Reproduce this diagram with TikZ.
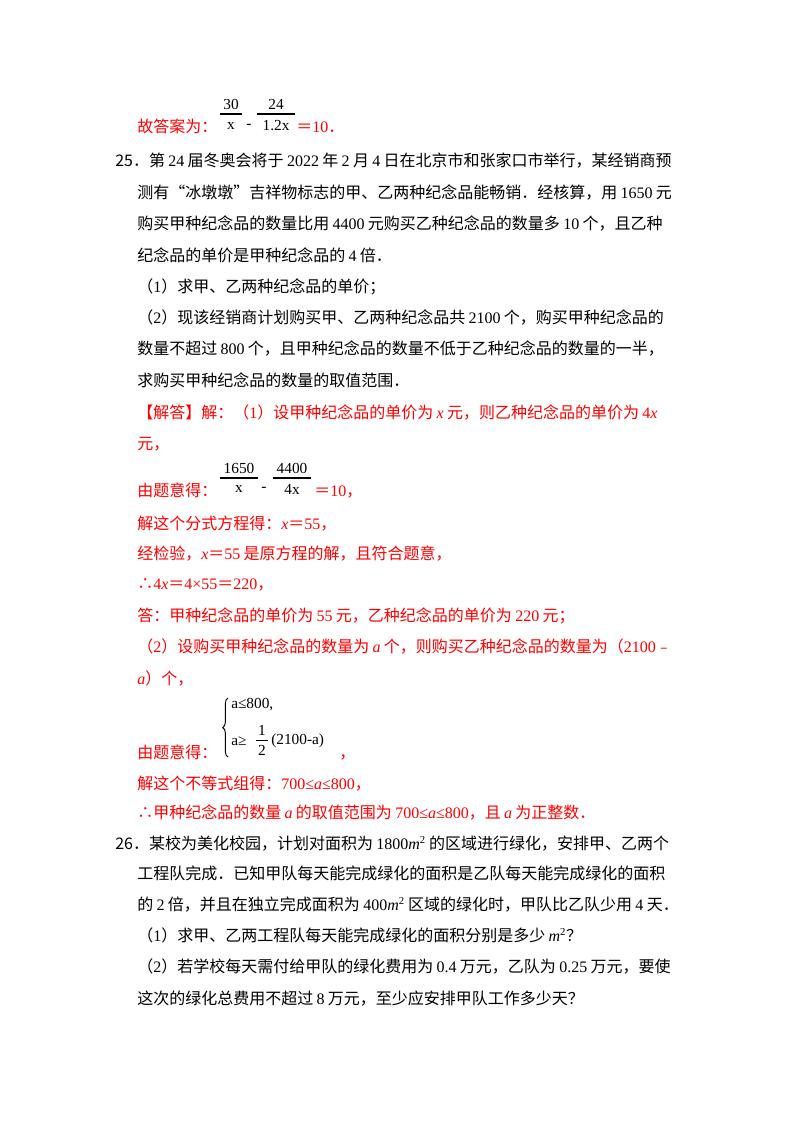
\documentclass[tikz,border=0pt]{standalone}
\usepackage{fontspec}
\usetikzlibrary{decorations.pathreplacing}
\setmainfont{Noto Sans CJK SC}
\newfontfamily\lat{Liberation Serif}
\newcommand\N[1]{{\lat #1}}
\newcommand\V[1]{{\lat\itshape #1}}
\newcommand\tfont{\fontsize{12}{14}\selectfont\spaceskip 2.5pt\relax}
\XeTeXlinebreaklocale "zh"
\XeTeXlinebreakskip=0pt plus 4pt
\begin{document}
\begin{tikzpicture}[x=0.75pt,y=-0.75pt,
  t/.style={anchor=base west,inner sep=0pt,font=\tfont},
  r/.style={t,text=red},
  fr/.style={inner sep=0pt,font=\lat\fontsize{11.5}{12}\selectfont},
  bar/.style={line width=0.8pt}]
\useasboundingbox[fill=white] (0,0) rectangle (800,1132);
\newcommand\full[4][t]{\node[#1] (#2) at (#3) {\hbox to 404.25pt{#4}};}
\newcommand\fullb[4][t]{\node[#1] (#2) at (#3) {\hbox to 420.75pt{#4}};}
% line 1
\node[r] (l1) at (137,132) {故答案为：};
\node[fr] (f1n) at (231,104) {30};
\draw[bar] (220,114) -- (242,114);
\node[fr] (f1d) at (231,126) {x};
\node[fr] (f1m) at (249,126) {-};
\node[fr] (f2n) at (276,104) {24};
\draw[bar] (257,114) -- (295,114);
\node[fr] (f2d) at (276,126) {1.2x};
\node[r] (l1b) at (296,132) {＝\N{10}．};
% problem 25
\fullb{l2}{115,166}{25．第 \N{24} 届冬奥会将于 \N{2022} 年 \N{2} 月 \N{4} 日在北京市和张家口市举行，某经销商预}
\full{l3}{137,198}{测有“冰墩墩”吉祥物标志的甲、乙两种纪念品能畅销．经核算，用 \N{1650} 元}
\full{l4}{137,229}{购买甲种纪念品的数量比用 \N{4400} 元购买乙种纪念品的数量多 \N{10} 个，且乙种}
\node[t] (l5) at (137,261) {纪念品的单价是甲种纪念品的 \N{4} 倍．};
\node[t] (l6) at (137,292) {（\N{1}）求甲、乙两种纪念品的单价；};
\full{l7}{137,323}{（\N{2}）现该经销商计划购买甲、乙两种纪念品共 \N{2100} 个，购买甲种纪念品的}
\full{l8}{137,354}{数量不超过 \N{800} 个，且甲种纪念品的数量不低于乙种纪念品的数量的一半，}
\node[t] (l9) at (137,386) {求购买甲种纪念品的数量的取值范围．};
\full[r]{l10}{137,418}{【解答】解：（\N{1}）设甲种纪念品的单价为 \V{x} 元，则乙种纪念品的单价为 \N{4}\V{x}}
\node[r] (l11) at (137,449) {元，};
\node[r] (l12) at (137,496) {由题意得：};
\node[fr] (g1n) at (239,468) {1650};
\draw[bar] (220,478) -- (258,478);
\node[fr] (g1d) at (239,489) {x};
\node[fr] (g1m) at (264,489) {-};
\node[fr] (g2n) at (292,468) {4400};
\draw[bar] (273,478) -- (311,478);
\node[fr] (g2d) at (292,489) {4x};
\node[r] (l12b) at (314,496) {＝\N{10}，};
\node[r] (l13) at (137,529) {解这个分式方程得：\V{x}＝\N{55}，};
\node[r] (l14) at (137,559) {经检验，\V{x}＝\N{55} 是原方程的解，且符合题意，};
\node[r] (l15) at (137,589) {∴\N{4}\V{x}＝\N{4×55}＝\N{220}，};
\node[r] (l16) at (137,621) {答：甲种纪念品的单价为 \N{55} 元，乙种纪念品的单价为 \N{220} 元；};
\full[r]{l17}{137,652}{（\N{2}）设购买甲种纪念品的数量为 \V{a} 个，则购买乙种纪念品的数量为（\N{2100}﹣}
\node[r] (l18) at (137,684) {\V{a}）个，};
\node[r] (l19) at (137,758) {由题意得：};
\coordinate (bt) at (228,698);
\coordinate (bb) at (228,757);
\draw[line width=0.7pt,decorate,decoration={brace,amplitude=4pt}] (bb) -- (bt);
\node[fr,anchor=west] (s1) at (231,705) {a≤800,};
\node[fr,anchor=west] (s2) at (231,741) {a≥};
\node[fr] (h1) at (262,730) {1};
\draw[line width=0.7pt] (256,740) -- (268,740);
\node[fr] (h2) at (262,750) {2};
\node[fr,anchor=west] (s3) at (271,741) {(2100-a)};
\node[r] (l19b) at (339,758) {，};
\node[r] (l20) at (137,789) {解这个不等式组得：\N{700≤}\V{a}\N{≤800}，};
\node[r] (l21) at (137,818) {∴甲种纪念品的数量 \V{a} 的取值范围为 \N{700≤}\V{a}\N{≤800}，且 \V{a} 为正整数．};
% problem 26
\fullb{l22}{115,849}{26．某校为美化校园，计划对面积为 \N{1800}\V{m}\N{\textsuperscript{2}} 的区域进行绿化，安排甲、乙两个}
\full{l23}{137,879}{工程队完成．已知甲队每天能完成绿化的面积是乙队每天能完成绿化的面积}
\full{l24}{137,910}{的 \N{2} 倍，并且在独立完成面积为 \N{400}\V{m}\N{\textsuperscript{2}} 区域的绿化时，甲队比乙队少用 \N{4} 天．}
\node[t] (l25) at (137,941) {（\N{1}）求甲、乙两工程队每天能完成绿化的面积分别是多少 \V{m}\N{\textsuperscript{2}}？};
\full{l26}{137,972}{（\N{2}）若学校每天需付给甲队的绿化费用为 \N{0.4} 万元，乙队为 \N{0.25} 万元，要使}
\node[t] (l27) at (137,1004) {这次的绿化总费用不超过 \N{8} 万元，至少应安排甲队工作多少天？};
\end{tikzpicture}
\end{document}
